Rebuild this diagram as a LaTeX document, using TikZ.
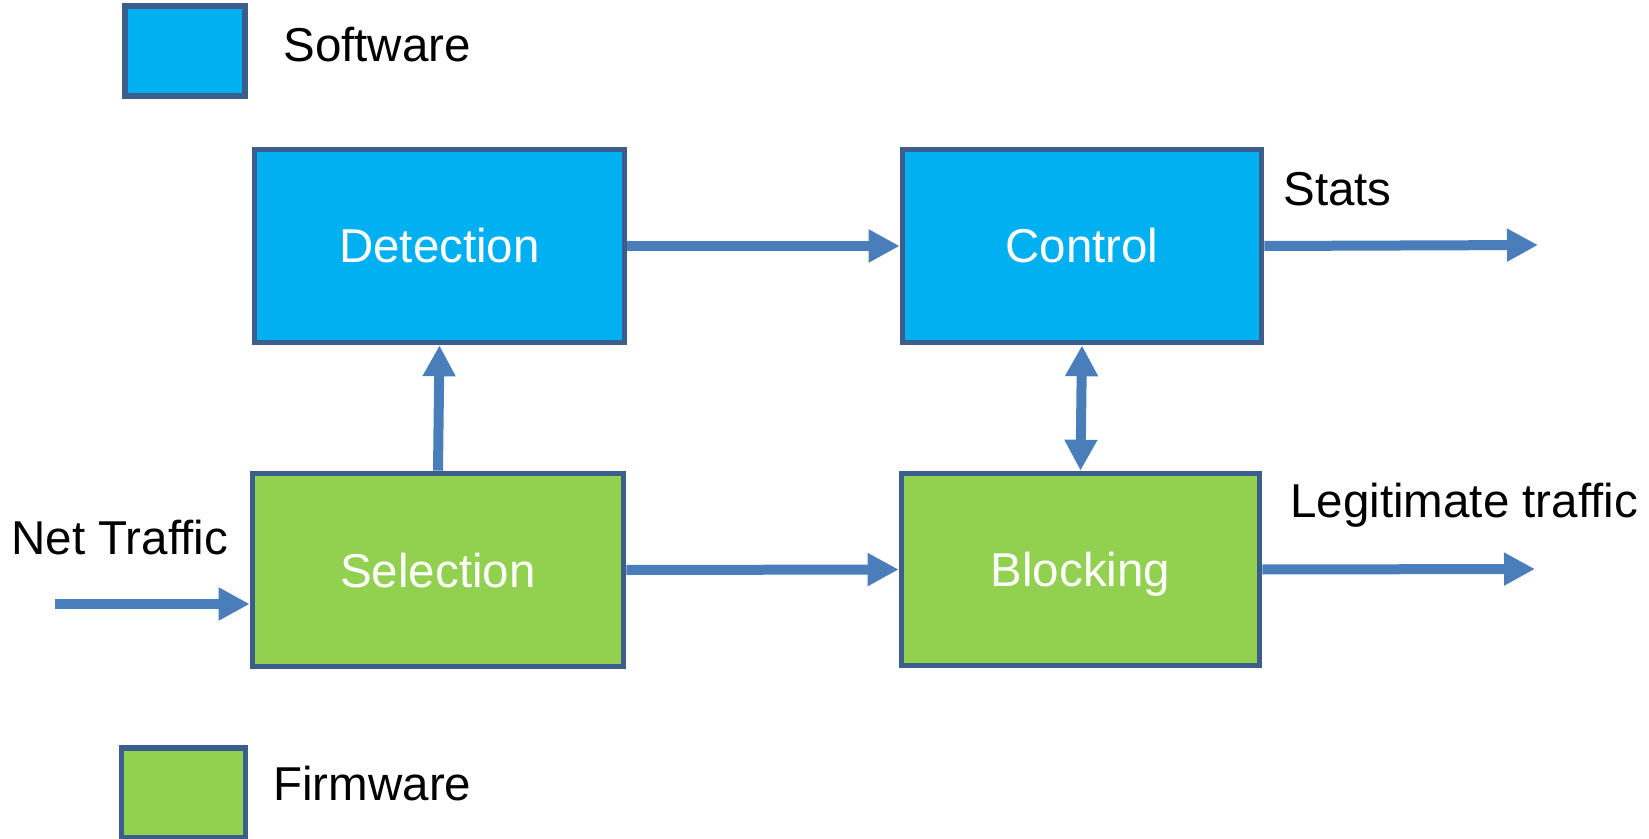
\documentclass[tikz,border=0pt]{standalone}
\usepackage{fontspec}
\setmainfont{Liberation Sans}
\usetikzlibrary{arrows.meta}
\definecolor{swblue}{HTML}{00B0F0}
\definecolor{fwgreen}{HTML}{92D050}
\definecolor{edgeblue}{HTML}{3B5E8C}
\definecolor{arrowblue}{HTML}{4A7EBB}
\begin{document}
\begin{tikzpicture}[x=0.5pt,y=-0.5pt,
  block/.style={draw=edgeblue, line width=2.8pt, inner sep=0pt, text=white,
    font=\fontsize{23.75}{28}\selectfont, text height=17pt, text depth=0pt},
  sw/.style={block, fill=swblue},
  fw/.style={block, fill=fwgreen},
  flow/.style={draw=arrowblue, line width=5pt, -{Triangle[length=15.5pt,width=15.5pt]}},
  flowboth/.style={draw=arrowblue, line width=5pt, {Triangle[length=15.5pt,width=15.5pt]}-{Triangle[length=15.5pt,width=15.5pt]}},
  lbl/.style={font=\fontsize{23.75}{28}\selectfont, text=black, inner sep=0pt, anchor=base west}]
\useasboundingbox (0,0) rectangle (1649,839);
% legend
\node[sw, minimum width=60pt, minimum height=45pt] (swkey) at (185,51) {};
\node[lbl] (swtxt) at (283,62) {Software};
\node[fw, minimum width=62pt, minimum height=45pt] (fwkey) at (183.5,793) {};
\node[lbl] (fwtxt) at (273,800) {Firmware};
% blocks
\node[sw, minimum width=185pt, minimum height=96.5pt] (det) at (439.5,246) {Detection};
\node[sw, minimum width=179.5pt, minimum height=96.5pt] (ctrl) at (1082,246) {Control};
\node[fw, minimum width=185.5pt, minimum height=96.5pt] (sel) at (438,570) {Selection};
\node[fw, minimum width=179pt, minimum height=96pt] (blk) at (1080.5,569.5) {Blocking};
% labels
\node[lbl] (nettxt) at (11,554) {Net Traffic};
\node[lbl] (statstxt) at (1283,206) {Stats};
\node[lbl] (legtxt) at (1290,517) {Legitimate traffic};
% free ends
\coordinate (netin) at (55,604);
\coordinate (statsout) at (1538,245);
\coordinate (legout) at (1535,569);
% connectors
\draw[flow] (netin) -- (netin -| sel.west);
\draw[flow] (sel.north) -- (det.south);
\draw[flow] (det.east) -- (ctrl.west);
\draw[flow] (sel.east) -- (blk.west);
\draw[flowboth] (blk.north) -- (ctrl.south);
\draw[flow] (ctrl.east) -- (statsout);
\draw[flow] (blk.east) -- (legout);
\end{tikzpicture}
\end{document}
